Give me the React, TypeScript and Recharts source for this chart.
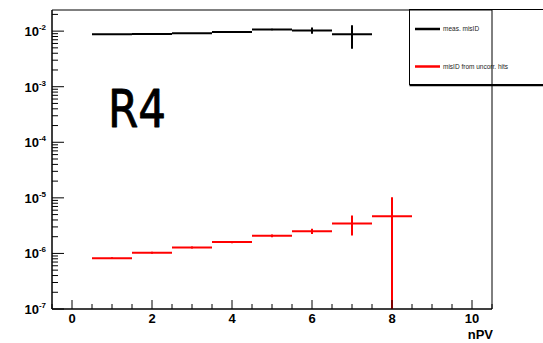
import { ScatterChart, Scatter, XAxis, YAxis, ErrorBar, ReferenceArea } from "recharts";

// bin centres (nPV), bin width 1
const nPV = [1, 2, 3, 4, 5, 6, 7, 8];
const measMisID = [0.0088, 0.0089, 0.0092, 0.0096, 0.0107, 0.0103, 0.0088];
const measErr = [0.0001, 0.0001, 0.0001, 0.0002, 0.0003, 0.0013, 0.004];
const uncorrMisID = [8.2e-7, 1.03e-6, 1.28e-6, 1.6e-6, 2.08e-6, 2.51e-6, 3.46e-6, 4.67e-6];
const uncorrErr = [0.03e-6, 0.04e-6, 0.05e-6, 0.07e-6, 0.12e-6, 0.27e-6, 1.35e-6, 5.6e-6];
const binHalfWidth = 0.5;

const xTicks = [-0.5, 0, 0.5, 1, 1.5, 2, 2.5, 3, 3.5, 4, 4.5, 5, 5.5, 6, 6.5, 7, 7.5, 8, 8.5, 9, 9.5, 10, 10.5];
const yDecades = [-7, -6, -5, -4, -3, -2];
const yMin = 1e-7;
const yMax = 0.024;

const yTicks: number[] = [];
yDecades.forEach((d) => {
  for (let k = 1; k <= 9; k++) {
    const v = k * Math.pow(10, d);
    if (v <= yMax) yTicks.push(v);
  }
});

// ROOT-style histogram points: horizontal bar = bin width, vertical = stat error (clipped at the axis)
const toPoints = (vals: number[], errs: number[]) =>
  vals.map((v, i) => ({
    x: nPV[i],
    y: v,
    ex: binHalfWidth,
    ey: [Math.min(errs[i], v - yMin), errs[i]],
  }));

const measData = toPoints(measMisID, measErr);
const uncorrData = toPoints(uncorrMisID, uncorrErr);

const FONT = "'Liberation Sans', Arial, Helvetica, sans-serif";

const YTick = ({ x, y, payload }: any) => {
  const e = Math.log10(payload.value);
  const major = Math.abs(e - Math.round(e)) < 1e-6;
  return (
    <g>
      <line x1={x} x2={x + (major ? 12 : 6)} y1={y} y2={y} stroke="#000" strokeWidth={1} />
      {major && (
        <text x={x - 6} y={y + 5} textAnchor="end" fontFamily={FONT} fontWeight="bold" fontSize={13} fill="#000">
          10
          <tspan dy={-6} fontSize={8}>{String(Math.round(e))}</tspan>
        </text>
      )}
    </g>
  );
};

const XTick = ({ x, y, payload }: any) => {
  const v = payload.value;
  const major = Math.abs(v / 2 - Math.round(v / 2)) < 1e-6;
  return (
    <g>
      <line x1={x} x2={x} y1={y} y2={y - (major ? 9 : 5)} stroke="#000" strokeWidth={1} />
      {major && (
        <text x={x} y={y + 14} textAnchor="middle" fontFamily={FONT} fontWeight="bold" fontSize={13} fill="#000">
          {v}
        </text>
      )}
    </g>
  );
};

const noMarker = () => <g />;

export default function App() {
  return (
    <div style={{ position: "absolute", left: 0, top: 0, background: "#fff" }}>
      <ScatterChart width={543} height={343} margin={{ top: 10, right: 51, bottom: 0, left: 0 }}>
        <XAxis
          type="number" dataKey="x" domain={[-0.5, 10.5]} ticks={xTicks} interval={0}
          allowDataOverflow height={34} tickSize={0} tickMargin={0} tick={<XTick />}
          axisLine={{ stroke: "#000" }}
          label={(p: any) => (
            <text x={p.viewBox.x + p.viewBox.width + 1} y={p.viewBox.y + 30} textAnchor="end"
              fontFamily={FONT} fontWeight="bold" fontSize={13} fill="#000">nPV</text>
          )}
        />
        <YAxis
          type="number" dataKey="y" scale="log" domain={[yMin, yMax]} ticks={yTicks} interval={0}
          allowDataOverflow width={52} tickSize={0} tickMargin={0} tick={<YTick />}
          axisLine={{ stroke: "#000" }}
        />
        <ReferenceArea x1={-0.5} x2={10.5} y1={yMin} y2={yMax} fill="none" stroke="#000" strokeWidth={1} ifOverflow="visible" />
        <Scatter data={measData} shape={noMarker} isAnimationActive={false}>
          <ErrorBar dataKey="ex" direction="x" width={0} stroke="#000" strokeWidth={2} isAnimationActive={false} />
          <ErrorBar dataKey="ey" direction="y" width={0} stroke="#000" strokeWidth={2} isAnimationActive={false} />
        </Scatter>
        <Scatter data={uncorrData} shape={noMarker} isAnimationActive={false}>
          <ErrorBar dataKey="ex" direction="x" width={0} stroke="#ff0000" strokeWidth={2} isAnimationActive={false} />
          <ErrorBar dataKey="ey" direction="y" width={0} stroke="#ff0000" strokeWidth={2} isAnimationActive={false} />
        </Scatter>
        <text x={108} y={127} fontFamily="'DejaVu Sans', sans-serif" fontSize={52} fill="#000"
          stroke="#000" strokeWidth={0.9} strokeLinejoin="round"
          textLength={58} lengthAdjust="spacingAndGlyphs">R4</text>
        <g>
          <rect x={409.5} y={9.5} width={140} height={75} fill="#fff" stroke="#000" strokeWidth={1} />
          <line x1={409.5} x2={549} y1={85.5} y2={85.5} stroke="#000" strokeWidth={1.5} />
          <line x1={415} x2={440} y1={29} y2={29} stroke="#000" strokeWidth={2.5} />
          <text x={443} y={31} fontFamily={FONT} fontSize={6.5} fill="#222">meas. misID</text>
          <line x1={415} x2={440} y1={66.5} y2={66.5} stroke="#ff0000" strokeWidth={2.5} />
          <text x={443} y={69} fontFamily={FONT} fontSize={6.5} fill="#222">misID from uncorr. hits</text>
        </g>
      </ScatterChart>
    </div>
  );
}
